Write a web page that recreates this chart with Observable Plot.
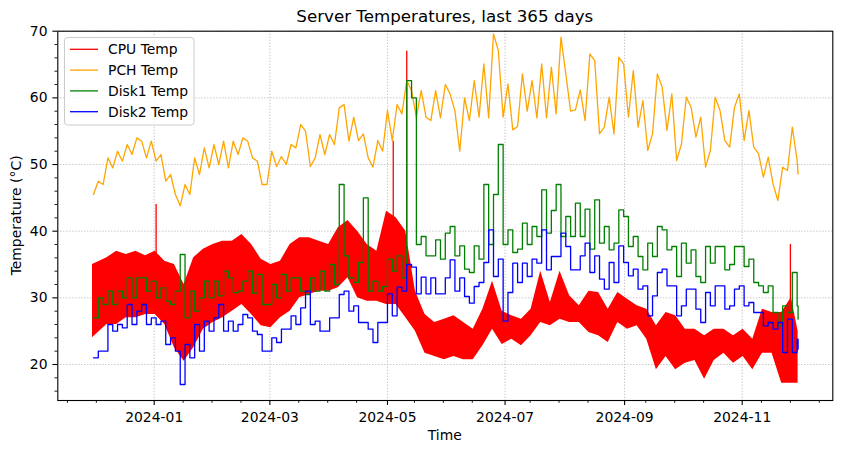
<!DOCTYPE html>
<html><head><meta charset="utf-8">
<script src="https://cdn.jsdelivr.net/npm/d3@7"></script>
<script src="https://cdn.jsdelivr.net/npm/@observablehq/plot@0.6"></script>
<style>
html,body{margin:0;padding:0;background:#fff;}
#chart{width:842px;height:453px;}
</style></head><body><div id="chart"></div>
<script>
// ---------- data (one low/high pair per 5-day window) ----------
const seriesNames = ["CPU Temp", "PCH Temp", "Disk1 Temp", "Disk2 Temp"];
const seriesColors = ["red", "orange", "green", "blue"];
const firstDay = "2023-11-30";
const lastDay = "2024-11-30";
const windowDays = 5;

const cpuLo = [24,26,26,27,27,27.5,27.5,26,22.5,20.5,22.5,25.3,26.3,
  27,28,29,27.5,25.8,25.5,27,28,30,30.5,31,31,31.5,
  33,30,29.5,29.5,29,29,27,25,21.7,21.2,20.7,21.2,20.7,
  20.7,22.8,25.3,23,23.8,22.8,24.3,26.3,25.8,26.8,26.3,26.3,24.8,
  24.3,23.3,26.3,25.3,25.8,23.8,19.2,21.2,19.2,20.2,20.6,17.8,20.6,
  21.7,20.2,21.2,19.2,21.7,21.7,17.2,17.2,17.2];
const cpuHi = [35,36,37,36.5,37,36.3,37,35.5,35,32,36,37.3,38,
  38.5,38.5,39.5,38,35.8,35,35.5,38,39,39,38.5,38,40.5,
  41.6,40,38,37,43,42,40,31,27.5,26.3,26.8,27.3,26.3,
  25.3,28.3,32.5,28,27.3,26.8,28.3,34,29.3,34,30.3,28.8,31,
  30.8,28.3,30.8,29.8,28.8,28.3,25.8,27.8,27.3,25.3,25.3,24.3,25.3,
  25.3,24.3,25.3,23.8,28.3,27.8,27.8,30,25];
const cpuSpikeDates = ["2024-01-02", "2024-05-04", "2024-05-11", "2024-11-26"];
const cpuSpikeFrom = [34, 40, 38, 28];
const cpuSpikeTo = [44, 53.5, 67, 38];

const pchLo = [45.5,47,49.5,50.5,51.5,51,50.5,47.5,45.5,43.8,45.5,48.5,49.5,
  50,49.5,51.5,51,47,47,49.7,50,52.5,49.7,51,51.5,53,
  53.5,53.6,51,49.6,52,53.6,57.6,57.1,57.1,56.6,57,58,52,
  56.6,57.1,57,57.1,55.2,55.7,58,57,57,57.6,58,58.2,56.6,
  54.6,55.6,54.6,57.1,55.6,52.1,54.6,55.1,50.6,53.1,54.1,49.6,52.1,
  53.6,52.6,53.6,52.6,48.1,47.1,44.6,49.1,48.6];
const pchHi = [47.5,51,52,53,54,53.5,53.5,51.5,48.5,47,51,52.5,53,
  53.5,53.5,54,53.5,50.5,52,51.2,53,56,55,54.5,54.5,58.5,
  59,57.1,54.6,53.6,58.1,59,62.6,61.1,61.1,61.1,62,60.6,60,
  62.6,65.1,69.6,67.1,62.1,63.6,62.6,65.1,64.6,69.1,63.6,61.2,66.6,
  65.6,60.1,66.1,65.1,64.1,59.6,63.6,61.6,60.6,60.1,58.6,57.1,60.1,
  58.1,58.6,60.6,58.1,51.6,51.1,49.6,55.6,50.6];

const disk1Lo = [27,29,29,30,30,31,30,29.5,29,27,28,30,30,
  30.3,30.8,31,30.7,29,29,30,31,31,30.5,31,31,32,
  33,32.3,31,31,31.7,34,33,38,36.3,36.3,35.8,36.3,34.3,
  33.8,35.8,38,38,36.8,37.3,38,39.2,39.7,39.2,39.2,39.2,37.3,
  38.2,37.2,38.2,37.7,36.2,34.2,36.2,37.2,33.2,35.2,33.2,32.3,35.2,
  34.2,35,34.7,32.3,30.8,27.8,25.8,27.8,26.8];
const disk1Hi = [30,31,31,33,33,33,32.5,31.5,31,36.5,31,32.5,32.5,
  34,33,32.5,34,33.5,32,33.5,33,33,33,34,35,47,
  36.3,35.3,45,32.5,35.8,36.3,62.6,60,39.2,38.7,39.7,40.7,37.8,
  37.8,47,45.5,53,40.2,41.2,40.7,46.2,43.1,47,42.2,44.2,43.3,
  44.7,40.7,43.2,42.2,39.2,38.2,40.7,40.2,37.7,38.2,37.2,37.7,37.7,
  37.7,37.7,37.7,35.8,31.8,31.8,28.8,33.8,28.8];

const disk2Lo = [21,22,25,25.5,26,26,26,23,22,17,21,22,25,
  25,25,26,25,22,22,23.3,25.3,26,26,25,25,27,
  28,26.3,25.3,23.3,26.3,27.3,31,30.6,30.6,30.6,30.6,31,30.2,
  29.2,32.3,33.2,26.5,30.8,32.3,33.2,35.2,34.2,36.2,34.2,34.2,33.8,
  32.8,31.3,32.3,33.3,31.3,27.3,30.3,31.8,27.3,28.8,28.3,26.3,28.8,
  28.3,28.8,28.8,27.8,25.8,25.3,21.8,21.8,22.3];
const disk2Hi = [22,26,26,29,28,29,27,26.5,24,23,26,26.5,27,
  29,26.5,27.5,27,24.5,24,25.3,27.3,28.5,31,26.5,27,30.5,
  31,28.8,26.3,26.3,30.6,31.6,35,34.6,33.1,33,33,35.7,33,
  31.7,35.3,40.2,35.8,35.2,35.2,35.8,40.2,36.2,39.7,37.7,36.3,38.2,
  36.3,35.3,37.8,35.3,34.3,31.8,33.8,34.3,31.8,31.3,31.3,30.8,31.8,
  31.8,31.3,31.8,29.3,27.8,26.3,26.3,26.8,23.8];

const xTickLabels = ["2024-01", "2024-03", "2024-05", "2024-07", "2024-09", "2024-11"];
const yTickValues = [20, 30, 40, 50, 60, 70];
const xDomainDays = ["2023-11-12", "2024-12-18"];
const yDomain = [14.6, 70];

// ---------- build rows ----------
const parseDay = d3.utcParse("%Y-%m-%d");
const parseMonth = d3.utcParse("%Y-%m");
const t0 = parseDay(firstDay), tEnd = parseDay(lastDay);
const spanDays = (tEnd - t0) / 864e5;
const at = d => new Date(Math.min(+t0 + d * 864e5, +tEnd));

// each window's low/high pair, ordered along the local trend (rising: low then high)
function zigzag(lo, hi) {
  const mid = lo.map((v, k) => (v + hi[k]) / 2);
  const n = lo.length;
  return lo.flatMap((v, k) => {
    const rising = mid[Math.min(n - 1, k + 1)] >= mid[Math.max(0, k - 1)];
    const a = rising ? v : hi[k], b = rising ? hi[k] : v;
    return [{t: at(k * windowDays + 0.5), v: a}, {t: at(k * windowDays + 3), v: b}];
  });
}
function band(lo, hi) {
  const n = lo.length;
  return lo.map((v, k) => ({
    t: at(k === 0 ? 0 : k === n - 1 ? spanDays : k * windowDays + 2.5),
    lo: v, hi: hi[k]
  }));
}
const cpuBand = band(cpuLo, cpuHi);
const cpuSpikes = cpuSpikeDates.map((d, i) => ({t: parseDay(d), from: cpuSpikeFrom[i], to: cpuSpikeTo[i]}));
const pchLine = zigzag(pchLo, pchHi);
const disk1Line = zigzag(disk1Lo, disk1Hi);
const disk2Line = zigzag(disk2Lo, disk2Hi);

const xTicks = xTickLabels.map(parseMonth);
const jan1 = xTicks[0];
const xMinor = d3.range(-3, 24).filter(n => n % 4 !== 0).map(n => d3.utcDay.offset(jan1, 15 * n));
const yMinor = d3.range(16, 70, 2).filter(v => v % 10 !== 0);

const gridStyle = {stroke: "#b0b0b0", strokeOpacity: 1, strokeWidth: 0.9, strokeDasharray: "1.1,1.9"};
const lw = 1.3;

const chart = Plot.plot({
  width: 842, height: 453,
  marginLeft: 57.3, marginRight: 9.7, marginTop: 30.7, marginBottom: 53,
  style: {fontFamily: "DejaVu Sans", fontSize: "13.9px", color: "black", background: "white", overflow: "visible"},
  x: {type: "utc", domain: xDomainDays.map(parseDay)},
  y: {domain: yDomain},
  marks: [
    Plot.gridX(xTicks, gridStyle),
    Plot.gridY(yTickValues, gridStyle),
    Plot.areaY(cpuBand, {x: "t", y1: "lo", y2: "hi", fill: seriesColors[0]}),
    Plot.ruleX(cpuSpikes, {x: "t", y1: "from", y2: "to", stroke: seriesColors[0], strokeWidth: lw}),
    Plot.line(pchLine, {x: "t", y: "v", stroke: seriesColors[1], strokeWidth: lw}),
    Plot.line(disk1Line, {x: "t", y: "v", stroke: seriesColors[2], strokeWidth: lw, curve: "step-after"}),
    Plot.line(disk2Line, {x: "t", y: "v", stroke: seriesColors[3], strokeWidth: lw, curve: "step-after"}),
    Plot.axisX(xTicks, {tickSize: 4.9, tickPadding: 6.5, tickFormat: (d, i) => xTickLabels[i], label: null, strokeWidth: 1.1}),
    Plot.axisX(xMinor, {tickSize: 2.8, tickFormat: () => "", label: null, strokeWidth: 0.9}),
    Plot.axisY(yTickValues, {tickSize: 4.9, tickPadding: 5.4, tickFormat: d => String(d), label: null, strokeWidth: 1.1}),
    Plot.axisY(yMinor, {tickSize: 2.8, tickFormat: () => "", label: null, strokeWidth: 0.9}),
    Plot.frame({stroke: "black", strokeWidth: 1.1})
  ]
});
document.getElementById("chart").appendChild(chart);

// ---------- title, axis labels, legend ----------
const svg = d3.select(chart);
const cx = (57.3 + 832.3) / 2;
svg.append("text").attr("x", cx).attr("y", 22.4).attr("text-anchor", "middle")
  .attr("font-size", 16.7).attr("fill", "black").text("Server Temperatures, last 365 days");
svg.append("text").attr("x", cx).attr("y", 439.5).attr("text-anchor", "middle")
  .attr("font-size", 13.9).attr("fill", "black").text("Time");
svg.append("text").attr("transform", "translate(21,215.4) rotate(-90)").attr("text-anchor", "middle")
  .attr("font-size", 13.9).attr("fill", "black").text("Temperature (°C)");

const lg = svg.append("g");
lg.append("rect").attr("x", 64.5).attr("y", 37.5).attr("width", 129.5).attr("height", 87.5).attr("rx", 3)
  .attr("fill", "white").attr("fill-opacity", 0.8).attr("stroke", "#cccccc").attr("stroke-width", 1);
seriesNames.forEach((name, i) => {
  const y = 49.3 + i * 20.8;
  lg.append("line").attr("x1", 70).attr("x2", 98).attr("y1", y).attr("y2", y)
    .attr("stroke", seriesColors[i]).attr("stroke-width", lw);
  lg.append("text").attr("x", 108).attr("y", y + 5).attr("text-anchor", "start")
    .attr("font-size", 13.9).attr("fill", "black").text(name);
});
</script></body></html>
